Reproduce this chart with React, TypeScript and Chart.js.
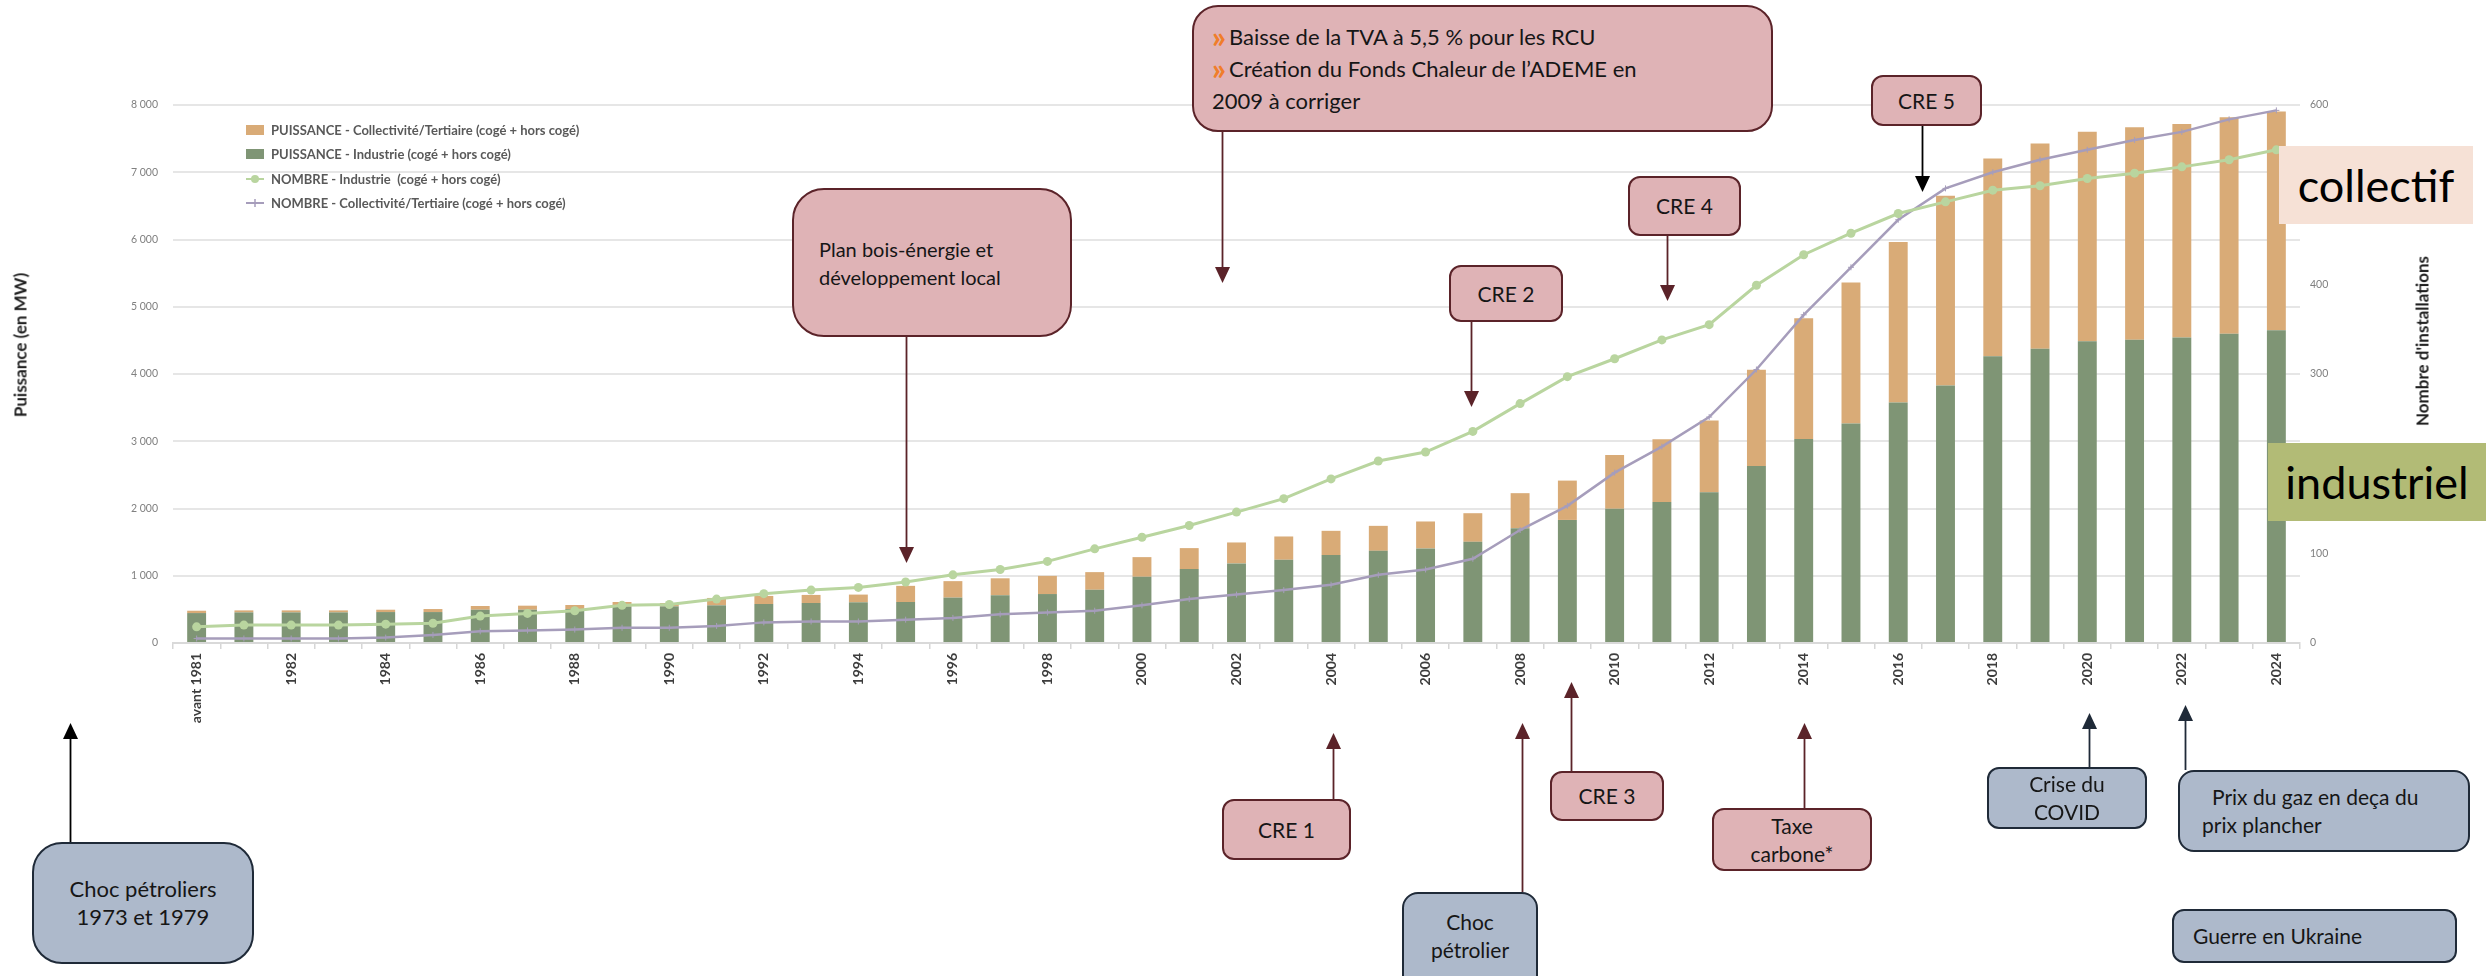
import React, { useEffect, useRef } from 'react';
import { Chart, registerables } from 'chart.js';

Chart.register(...registerables);

// ---------- DATA ----------
const categories = [
  'avant 1981', '1981', '1982', '1983', '1984', '1985', '1986', '1987', '1988', '1989',
  '1990', '1991', '1992', '1993', '1994', '1995', '1996', '1997', '1998', '1999',
  '2000', '2001', '2002', '2003', '2004', '2005', '2006', '2007', '2008', '2009',
  '2010', '2011', '2012', '2013', '2014', '2015', '2016', '2017', '2018', '2019',
  '2020', '2021', '2022', '2023', '2024',
];

// PUISSANCE - Industrie (MW)
const puissanceIndustrie = [
  445, 455, 455, 455, 460, 460, 495, 495, 505, 545,
  545, 560, 580, 595, 605, 610, 675, 710, 728, 792,
  985, 1099, 1183, 1238, 1307, 1371, 1406, 1505, 1708, 1830,
  1995, 2096, 2241, 2632, 3035, 3264, 3577, 3828, 4264, 4376,
  4488, 4510, 4544, 4600, 4650,
];

// PUISSANCE - Collectivité/Tertiaire (MW)
const puissanceCollectivite = [
  35, 30, 30, 30, 35, 45, 55, 60, 60, 65,
  50, 110, 120, 120, 115, 240, 245, 252, 270, 262,
  292, 312, 312, 346, 361, 371, 401, 425, 520, 585,
  800, 933, 1068, 1431, 1794, 2096, 2386, 2823, 2940, 3052,
  3113, 3158, 3174, 3219, 3253,
];

// NOMBRE - Industrie
const nombreIndustrie = [
  18, 20, 20, 20, 21, 22, 30, 33, 36, 42,
  43, 49, 55, 59, 62, 68, 76, 82, 91, 105,
  118, 131, 146, 161, 183, 203, 213, 236, 267, 297,
  317, 338, 355, 399, 433, 457, 479, 492, 505, 510,
  518, 524, 531, 539, 550,
];

// NOMBRE - Collectivité/Tertiaire
const nombreCollectivite = [
  5, 5, 5, 5, 6, 9, 13, 14, 15, 17,
  17, 19, 23, 24, 24, 26, 28, 32, 34, 36,
  42, 49, 54, 59, 65, 76, 82, 94, 126, 153,
  190, 219, 252, 305, 366, 419, 472, 507, 525, 539,
  550, 561, 570, 584, 594,
];

const seriesLabels = [
  'PUISSANCE - Collectivité/Tertiaire (cogé + hors cogé)',
  'PUISSANCE - Industrie (cogé + hors cogé)',
  'NOMBRE - Industrie  (cogé + hors cogé)',
  'NOMBRE - Collectivité/Tertiaire (cogé + hors cogé)',
];

// ---------- STYLE ----------
const GREEN_BAR = '#7f9575';
const TAN_BAR = '#d9ab77';
const GREEN_LINE = '#b9d59f';
const PURPLE_LINE = '#a69dbb';
const MAROON = '#5b2329';
const NAVY = '#1f2a38';
const BLACK = '#000000';
const PINK = '#dfb3b6';
const BLUE = '#adb9cb';

// annotation arrows: x given as (fractional) category index
const arrows = [
  { at: 15, y0: 337, y1: 563, color: MAROON },
  { at: 21.7, y0: 131, y1: 283, color: MAROON },
  { at: 26.96, y0: 322, y1: 407, color: MAROON },
  { at: 31.1, y0: 236, y1: 301, color: MAROON },
  { at: 36.5, y0: 125, y1: 192, color: BLACK },
  { at: -2.68, y0: 842, y1: 723, color: BLACK },
  { at: 24.04, y0: 799, y1: 733, color: MAROON },
  { at: 28.04, y0: 892, y1: 723, color: MAROON },
  { at: 29.07, y0: 771, y1: 682, color: MAROON },
  { at: 34, y0: 808, y1: 723, color: MAROON },
  { at: 40.03, y0: 767, y1: 713, color: NAVY },
  { at: 42.06, y0: 770, y1: 705, color: NAVY },
];

const arrowPlugin = {
  id: 'arrows',
  afterDraw(chart: any) {
    const ctx = chart.ctx;
    const xs = chart.scales.x;
    ctx.save();
    arrows.forEach((a) => {
      const x = Math.round(xs.getPixelForValue(a.at)) + 0.5;
      const dir = a.y1 > a.y0 ? 1 : -1;
      const head = 16;
      ctx.strokeStyle = a.color;
      ctx.fillStyle = a.color;
      ctx.lineWidth = 1.8;
      ctx.beginPath();
      ctx.moveTo(x, a.y0);
      ctx.lineTo(x, a.y1 - dir * head);
      ctx.stroke();
      ctx.beginPath();
      ctx.moveTo(x, a.y1);
      ctx.lineTo(x - 7.5, a.y1 - dir * head);
      ctx.lineTo(x + 7.5, a.y1 - dir * head);
      ctx.closePath();
      ctx.fill();
    });
    ctx.restore();
  },
};

const fmt = (v: number) => {
  const s = String(Math.round(v));
  return s.replace(/\B(?=(\d{3})+(?!\d))/g, ' ');
};

type BoxProps = {
  left: number; top: number; width: number; height: number;
  kind: 'pink' | 'blue'; radius: number; size?: number;
  style?: React.CSSProperties; children: React.ReactNode;
};

function Box({ left, top, width, height, kind, radius, size = 21, style, children }: BoxProps) {
  return (
    <div
      style={{
        position: 'absolute', left, top, width, height, boxSizing: 'border-box',
        background: kind === 'pink' ? PINK : BLUE,
        border: `2.5px solid ${kind === 'pink' ? MAROON : NAVY}`,
        borderRadius: radius, color: '#161616', fontFamily: 'Lato, sans-serif',
        fontSize: size, lineHeight: '28px',
        display: 'flex', flexDirection: 'column', justifyContent: 'center', alignItems: 'center',
        textAlign: 'center', whiteSpace: 'nowrap',
        ...style,
      }}
    >
      {children}
    </div>
  );
}

const chevron = (
  <span style={{ color: '#f07d2a', fontWeight: 900, fontSize: 30, lineHeight: '28px', marginRight: 3, verticalAlign: 'top', position: 'relative', top: 1 }}>»</span>
);

function LegendRow({ kind, color, label, top }: { kind: 'bar' | 'circle' | 'cross'; color: string; label: string; top: number }) {
  return (
    <div style={{ position: 'absolute', left: 245, top: top - 10, height: 20, display: 'flex', alignItems: 'center' }}>
      <svg width={20} height={20} style={{ marginRight: 6 }}>
        {kind === 'bar' && <rect x={1} y={5} width={18} height={10} fill={color} />}
        {kind !== 'bar' && <line x1={1} y1={10} x2={19} y2={10} stroke={color} strokeWidth={2} />}
        {kind === 'circle' && <circle cx={10} cy={10} r={4} fill={color} />}
        {kind === 'cross' && <line x1={10} y1={6} x2={10} y2={14} stroke={color} strokeWidth={1.5} />}
      </svg>
      <span style={{ fontFamily: 'Lato, sans-serif', fontWeight: 700, fontSize: 13, color: '#595959', whiteSpace: 'pre' }}>{label}</span>
    </div>
  );
}

export default function App() {
  const ref = useRef<HTMLCanvasElement>(null);

  useEffect(() => {
    if (!ref.current) return;
    Chart.defaults.font.family = 'Lato, sans-serif';
    const chart = new Chart(ref.current, {
      type: 'bar',
      data: {
        labels: categories,
        datasets: [
          {
            type: 'line' as const,
            label: seriesLabels[2],
            data: nombreIndustrie,
            yAxisID: 'y1',
            borderColor: GREEN_LINE,
            backgroundColor: GREEN_LINE,
            borderWidth: 3,
            pointStyle: 'circle',
            pointRadius: 4.5,
            pointBorderWidth: 0,
            tension: 0,
            order: 0,
          },
          {
            type: 'line' as const,
            label: seriesLabels[3],
            data: nombreCollectivite,
            yAxisID: 'y1',
            borderColor: PURPLE_LINE,
            backgroundColor: PURPLE_LINE,
            borderWidth: 2.5,
            pointStyle: 'cross',
            pointRadius: 3,
            pointBorderWidth: 1,
            tension: 0,
            order: 1,
          },
          {
            type: 'bar' as const,
            label: seriesLabels[1],
            data: puissanceIndustrie,
            yAxisID: 'y',
            backgroundColor: GREEN_BAR,
            barPercentage: 0.4,
            categoryPercentage: 1,
            order: 2,
          },
          {
            type: 'bar' as const,
            label: seriesLabels[0],
            data: puissanceCollectivite,
            yAxisID: 'y',
            backgroundColor: TAN_BAR,
            barPercentage: 0.4,
            categoryPercentage: 1,
            order: 2,
          },
        ] as any,
      },
      options: {
        responsive: false,
        maintainAspectRatio: false,
        animation: false,
        layout: { padding: { top: 105, left: 0, right: 0, bottom: 0 } },
        plugins: { legend: { display: false }, tooltip: { enabled: false }, title: { display: false } },
        scales: {
          x: {
            stacked: true,
            afterFit: (s: any) => { s.height = 333; },
            grid: { display: true, drawOnChartArea: false, drawTicks: true, tickLength: 6, color: '#d6d6d6', lineWidth: 1.5, offset: true },
            border: { display: true, color: '#d9d9d9', width: 2 },
            ticks: {
              autoSkip: false, minRotation: 90, maxRotation: 90, padding: 4,
              color: '#3d3d3d', font: { size: 14, weight: 'bold' },
              callback: (_v: any, i: number) => (i % 2 === 0 ? categories[i] : ''),
            },
          },
          y: {
            stacked: true,
            position: 'left',
            min: 0, max: 8000,
            afterFit: (s: any) => { s.width = 173; },
            grid: { color: '#e6e6e6', lineWidth: 2, drawTicks: false },
            border: { display: false },
            ticks: { stepSize: 1000, padding: 15, color: '#808080', font: { size: 10.5 }, callback: (v: any) => fmt(Number(v)) },
          },
          y1: {
            position: 'right',
            min: 0, max: 600,
            afterFit: (s: any) => { s.width = 186; },
            grid: { display: false, drawTicks: false },
            border: { display: false },
            ticks: { stepSize: 100, padding: 10, color: '#808080', font: { size: 10.5 } },
          },
        },
      } as any,
      plugins: [arrowPlugin],
    });
    return () => chart.destroy();
  }, []);

  return (
    <div style={{ position: 'fixed', left: 0, top: 0, width: 2486, height: 976, overflow: 'hidden', background: '#ffffff', fontFamily: 'Lato, sans-serif' }}>
      <canvas ref={ref} width={2486} height={976} style={{ position: 'absolute', left: 0, top: 0, width: 2486, height: 976, display: 'block' }} />

      {/* axis titles */}
      <div style={{ position: 'absolute', left: 20, top: 345, transform: 'translate(-50%,-50%) rotate(-90deg)', whiteSpace: 'nowrap', fontWeight: 700, fontSize: 17, color: '#1e1e1e' }}>
        Puissance (en MW)
      </div>
      <div style={{ position: 'absolute', left: 2422, top: 341, transform: 'translate(-50%,-50%) rotate(-90deg)', whiteSpace: 'nowrap', fontWeight: 700, fontSize: 17, color: '#1e1e1e' }}>
        Nombre d'installations
      </div>

      {/* legend */}
      <LegendRow kind="bar" color={TAN_BAR} label={seriesLabels[0]} top={130} />
      <LegendRow kind="bar" color={GREEN_BAR} label={seriesLabels[1]} top={154} />
      <LegendRow kind="circle" color={GREEN_LINE} label={seriesLabels[2]} top={179} />
      <LegendRow kind="cross" color={PURPLE_LINE} label={seriesLabels[3]} top={203} />

      {/* side labels */}
      <div style={{ position: 'absolute', left: 2279, top: 146, width: 194, height: 78, background: '#f6e1d6', display: 'flex', alignItems: 'center', justifyContent: 'center', fontSize: 45, color: '#000' }}>
        collectif
      </div>
      <div style={{ position: 'absolute', left: 2268, top: 443, width: 218, height: 78, background: '#b2bb76', display: 'flex', alignItems: 'center', justifyContent: 'center', fontSize: 45, color: '#000' }}>
        industriel
      </div>

      {/* top annotations */}
      <Box left={1192} top={5} width={581} height={127} kind="pink" radius={26} size={22}
        style={{ alignItems: 'flex-start', justifyContent: 'flex-start', textAlign: 'left', paddingLeft: 18, paddingTop: 14, lineHeight: '32px' }}>
        <div>{chevron}Baisse de la TVA à 5,5 % pour les RCU</div>
        <div>{chevron}Création du Fonds Chaleur de l’ADEME en</div>
        <div>2009 à corriger</div>
      </Box>
      <Box left={792} top={188} width={280} height={149} kind="pink" radius={32} size={20}
        style={{ alignItems: 'flex-start', justifyContent: 'flex-start', textAlign: 'left', paddingLeft: 25, paddingTop: 45 }}>
        <div>Plan bois-énergie et</div>
        <div>développement local</div>
      </Box>
      <Box left={1449} top={265} width={114} height={57} kind="pink" radius={12}>CRE 2</Box>
      <Box left={1628} top={176} width={113} height={60} kind="pink" radius={12}>CRE 4</Box>
      <Box left={1871} top={75} width={111} height={51} kind="pink" radius={12}>CRE 5</Box>

      {/* bottom annotations */}
      <Box left={32} top={842} width={222} height={122} kind="blue" radius={30} size={22}>
        <div>Choc pétroliers</div>
        <div>1973 et 1979</div>
      </Box>
      <Box left={1222} top={799} width={129} height={61} kind="pink" radius={12}>CRE 1</Box>
      <Box left={1402} top={892} width={136} height={110} kind="blue" radius={16}
        style={{ justifyContent: 'flex-start', paddingTop: 14 }}>
        <div>Choc</div>
        <div>pétrolier</div>
      </Box>
      <Box left={1550} top={771} width={114} height={50} kind="pink" radius={12}>CRE 3</Box>
      <Box left={1712} top={808} width={160} height={63} kind="pink" radius={12}>
        <div>Taxe</div>
        <div>carbone*</div>
      </Box>
      <Box left={1987} top={767} width={160} height={62} kind="blue" radius={12}>
        <div>Crise du</div>
        <div>COVID</div>
      </Box>
      <Box left={2178} top={770} width={292} height={82} kind="blue" radius={16}
        style={{ alignItems: 'flex-start', textAlign: 'left', paddingLeft: 22 }}>
        <div style={{ paddingLeft: 10 }}>Prix du gaz en deça du</div>
        <div>prix plancher</div>
      </Box>
      <Box left={2172} top={909} width={285} height={54} kind="blue" radius={12}
        style={{ alignItems: 'flex-start', paddingLeft: 19 }}>
        Guerre en Ukraine
      </Box>
    </div>
  );
}
